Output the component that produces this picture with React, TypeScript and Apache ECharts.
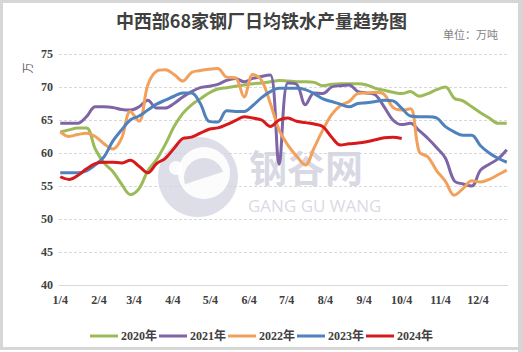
import React, { useEffect, useRef } from "react";
import * as echarts from "echarts";

const monthLengths = [31, 28, 31, 30, 31, 30, 31, 31, 30, 31, 30, 31];
const xTickLabels = ["1/4", "2/4", "3/4", "4/4", "5/4", "6/4", "7/4", "8/4", "9/4", "10/4", "11/4", "12/4"];
const yearNames = ["2020年", "2021年", "2022年", "2023年", "2024年"];
const colors = ["#9BBB59", "#7E66A6", "#F2A15C", "#4F81BD", "#D7191C"];

const y2020 = [63.2, 63.5, 63.8, 63.8, 60.6, 58.5, 57.2, 55.3, 53.7, 54.6, 57.3, 59.0, 61.3, 64.0, 66.0, 67.3, 68.2, 69.1, 69.7, 69.9, 70.1, 70.3, 70.5, 70.6, 70.8, 71.0, 70.9, 70.8, 70.8, 70.7, 70.2, 70.4, 70.5, 70.5, 70.5, 70.3, 69.8, 69.5, 69.2, 69.0, 69.3, 68.6, 69.0, 69.6, 70.0, 68.3, 67.9, 67.0, 66.1, 65.3, 64.5, 64.5];
const y2021 = [64.5, 64.5, 64.5, 65.5, 67.0, 67.0, 66.9, 66.6, 66.5, 67.0, 68.0, 66.8, 66.8, 67.5, 68.5, 69.3, 69.9, 70.1, 70.4, 71.0, 71.3, 70.8, 71.3, 71.6, 71.8, 58.3, 70.6, 70.4, 67.3, 69.1, 69.0, 70.0, 70.2, 70.3, 69.3, 69.1, 68.8, 67.0, 65.0, 64.3, 64.5, 63.4, 62.2, 60.8, 59.2, 55.8, 55.3, 55.0, 57.4, 58.3, 59.1, 60.5];
const y2022 = [63.2, 62.5, 62.8, 63.0, 62.5, 61.4, 60.6, 62.2, 66.3, 64.8, 70.3, 72.4, 72.6, 71.9, 70.9, 72.2, 72.5, 72.7, 72.8, 71.5, 71.4, 68.5, 71.9, 71.0, 67.5, 63.5, 61.2, 59.5, 58.2, 60.8, 63.5, 65.8, 67.2, 67.8, 69.0, 69.1, 69.2, 68.9, 66.9, 66.5, 66.7, 60.2, 59.4, 57.3, 55.7, 53.6, 54.6, 55.8, 55.6, 56.0, 56.7, 57.4];
const y2023 = [57.0, 57.0, 57.0, 57.3, 58.2, 59.4, 61.8, 63.5, 65.0, 65.6, 66.5, 67.4, 68.0, 68.6, 69.1, 69.1, 67.5, 64.8, 64.7, 66.4, 66.3, 66.3, 67.2, 68.4, 69.3, 69.8, 69.8, 69.8, 69.6, 69.0, 68.2, 67.8, 67.4, 67.0, 67.5, 67.6, 67.8, 68.0, 67.9, 66.8, 65.6, 65.5, 65.5, 65.3, 64.0, 63.2, 62.7, 62.7, 61.1, 60.0, 59.2, 58.6];
const y2024 = [56.4, 56.0, 56.6, 57.6, 58.4, 58.6, 58.6, 58.5, 58.9, 58.0, 57.0, 58.4, 59.2, 60.7, 62.2, 62.4, 63.0, 63.6, 63.8, 64.3, 64.9, 65.5, 65.3, 65.0, 64.0, 65.0, 65.3, 64.8, 64.6, 64.4, 64.0, 62.4, 61.2, 61.4, 61.5, 61.7, 62.0, 62.3, 62.4, 62.2];
const seriesValues = [y2020, y2021, y2022, y2023, y2024];

// daily category axis from 1/3 to 12/28; weekly points start on 1/4
function buildDays(): string[] {
  const out: string[] = [];
  for (let m = 0; m < 12; m++) {
    for (let d = 1; d <= monthLengths[m]; d++) out.push(`${m + 1}/${d}`);
  }
  return out.slice(2, 362);
}

const serifBold = { fontFamily: "Liberation Serif, 'Noto Sans CJK SC', serif", fontWeight: "bold" as const };

export default function App() {
  const ref = useRef<HTMLDivElement>(null);
  useEffect(() => {
    document.body.style.margin = "0";
    const chart = echarts.init(ref.current!, null, { renderer: "svg" });
    const days = buildDays();
    const firstIdx = days.indexOf("1/4");
    const wm = "#D3D3E0";
    chart.setOption({
      animation: false,
      backgroundColor: "#ffffff",
      title: {
        text: "中西部68家钢厂日均铁水产量趋势图",
        left: "center",
        top: 6,
        textStyle: { fontFamily: "'Noto Sans CJK SC'", fontWeight: "bold", fontSize: 18, color: "#404040" },
      },
      graphic: [
        { type: "rect", z: 100, shape: { x: 1.5, y: 1.5, width: 518, height: 347 }, style: { fill: "none", stroke: "#D6D6D6", lineWidth: 3 } },
        { type: "rect", z: 100, shape: { x: 518, y: 0, width: 5, height: 352 }, style: { fill: "#D6D6D6" } },
        { type: "text", left: 443, top: 28, style: { text: "单位：万吨", fontSize: 11, fill: "#7F7F7F", fontFamily: "'Noto Sans CJK SC'" } },
        { type: "text", x: 27, y: 68, rotation: Math.PI / 2, style: { text: "万", fontSize: 11, fill: "#595959", fontFamily: "'Noto Sans CJK SC'", align: "center", verticalAlign: "middle" } },
        { type: "circle", z: 1, shape: { cx: 198, cy: 177, r: 40 }, style: { fill: wm, opacity: 0.75 } },
        { type: "circle", z: 1, shape: { cx: 204, cy: 173, r: 26 }, style: { fill: "#ffffff", opacity: 0.9 } },
        { type: "sector", z: 1, shape: { cx: 204, cy: 178, r: 20, r0: 0, startAngle: Math.PI * 0.9, endAngle: Math.PI * 1.9 }, style: { fill: wm, opacity: 0.75 } },
        { type: "circle", z: 1, shape: { cx: 176, cy: 168, r: 7 }, style: { fill: "#ffffff", opacity: 0.9 } },
        { type: "text", z: 1, x: 249, y: 165, style: { text: "钢谷网", fontSize: 38, fontWeight: "bold", fill: wm, opacity: 0.85, fontFamily: "'Noto Sans CJK SC'", verticalAlign: "middle" } },
        { type: "text", z: 1, x: 248, y: 205, style: { text: "GANG GU WANG", fontSize: 17, fill: wm, opacity: 0.85, fontFamily: "'Open Sans', sans-serif", verticalAlign: "middle" } },
      ],
      legend: {
        top: 325,
        left: "center",
        itemWidth: 28,
        itemHeight: 3,
        itemGap: 2,
        icon: "rect",
        textStyle: { ...serifBold, fontSize: 12, color: "#404040", padding: [0, 0, 0, -2] },
        data: yearNames,
      },
      grid: { left: 59, right: 15, top: 54, bottom: 67 },
      xAxis: {
        type: "category",
        data: days,
        boundaryGap: false,
        axisLine: { lineStyle: { color: "#D9D9D9" } },
        axisTick: { show: false },
        axisLabel: {
          interval: (_i: number, v: string) => xTickLabels.includes(v),
          margin: 9,
          ...serifBold,
          fontSize: 12,
          color: "#404040",
        },
        splitLine: { show: false },
      },
      yAxis: {
        type: "value",
        min: 40,
        max: 75,
        interval: 5,
        axisLine: { show: false },
        axisTick: { show: false },
        axisLabel: { ...serifBold, fontSize: 12, color: "#404040", margin: 6, showMaxLabel: true, showMinLabel: true },
        splitLine: { lineStyle: { color: "#D9D9D9", type: [3, 2] } },
      },
      series: seriesValues.map((vals, k) => ({
        name: yearNames[k],
        type: "line",
        z: 3 + k,
        smooth: 0.35,
        showSymbol: false,
        color: colors[k],
        lineStyle: { width: 3, color: colors[k] },
        data: vals.map((v, i) => [firstIdx + 7 * i, v]),
      })),
    });
    return () => chart.dispose();
  }, []);
  return <div ref={ref} style={{ position: "fixed", left: 0, top: 0, width: 523, height: 352 }} />;
}
